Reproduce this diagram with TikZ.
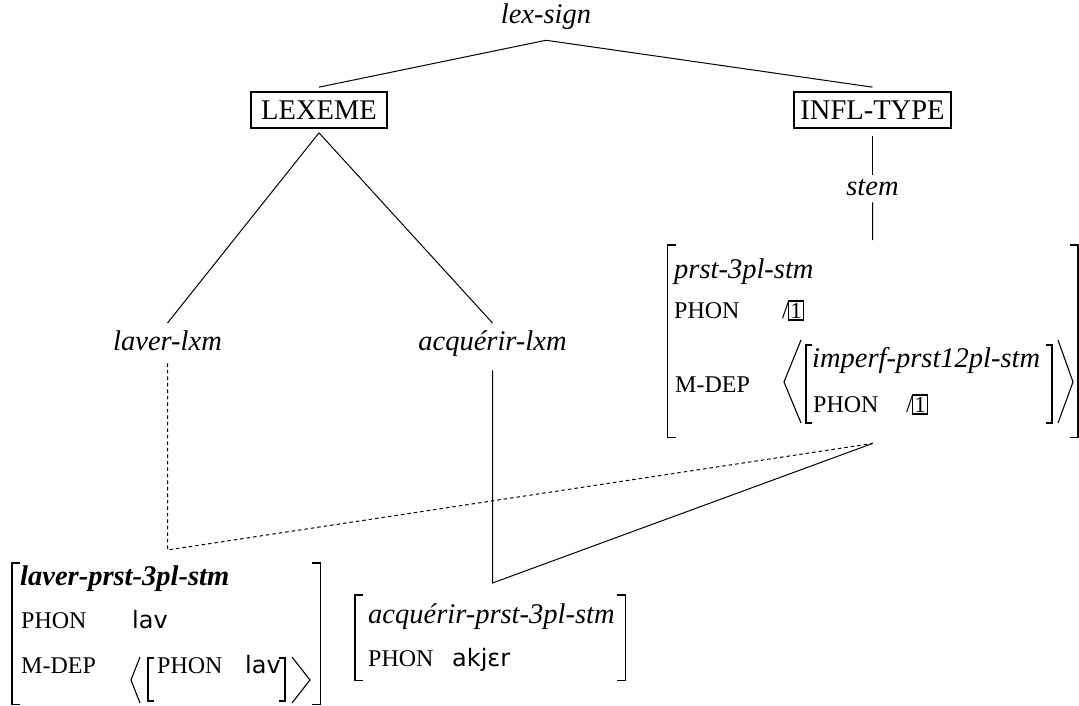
\documentclass[tikz,border=0pt]{standalone}
\usepackage{fontspec}
\setmainfont{Liberation Serif}
\newfontfamily\phonfont{DejaVu Sans}
\usetikzlibrary{calc}

% type sizes
\newcommand\mainsz{\fontsize{28.5}{34}\selectfont}
\newcommand\featsz{\fontsize{24}{28}\selectfont}
% structure-sharing tag
\newcommand\idxbox[1]{{\fontsize{23}{23}\selectfont\setlength\fboxsep{1pt}\setlength\fboxrule{1.6pt}\fbox{#1}}}
\newcommand\sharedval{{\fontsize{25}{25}\selectfont/}\kern-1.5pt\idxbox{1}}

\begin{document}
\begin{tikzpicture}[x=1pt,y=-1pt,
  txt/.style={inner sep=0pt, anchor=base, font=\mainsz},
  typ/.style={inner sep=0pt, anchor=base west, font=\mainsz\itshape},
  btyp/.style={inner sep=0pt, anchor=base west, font=\mainsz\bfseries\itshape},
  feat/.style={inner sep=0pt, anchor=base west, font=\featsz},
  ph/.style={inner sep=0pt, anchor=base west, font=\phonfont\featsz},
  sortbox/.style={draw, line width=1.7pt, inner sep=0pt, minimum height=36pt, font=\mainsz},
  frame/.style={inner sep=0pt, anchor=north west},
  conn/.style={line width=1pt},
  dconn/.style={line width=1pt, dash pattern=on 3.5pt off 3pt},
  brk/.style={line width=1.5pt},
  ang/.style={line width=1.1pt}]
\useasboundingbox (0,0) rectangle (1079,706);

% hierarchy nodes
\node[txt, font=\mainsz\itshape] (lexsign) at (546,24) {lex-sign};
\node[sortbox, minimum width=136pt] (lexeme) at (319,110) {LEXEME};
\node[sortbox, minimum width=157pt] (infl) at (872.5,110) {INFL-TYPE};
\node[txt, font=\mainsz\itshape] (laverlxm) at (167.5,350) {laver-lxm};
\node[txt, font=\mainsz\itshape] (acqlxm) at (492.5,350) {acquérir-lxm};
\node[txt, font=\mainsz\itshape] (stem) at (872.5,195) {stem};

% AVM frames
\node[frame, minimum width=410pt, minimum height=192pt] (avmR) at (667.5,245) {};
\node[frame, minimum width=308pt, minimum height=141pt] (avmL) at (12,563) {};
\node[frame, minimum width=270pt, minimum height=85pt] (avmM) at (355,595) {};

% outer brackets
\foreach \f in {avmR,avmL,avmM}{
  \draw[brk] ([xshift=8pt]\f.north west) -- (\f.north west) -- (\f.south west) -- ([xshift=8pt]\f.south west);
  \draw[brk] ([xshift=-8pt]\f.north east) -- (\f.north east) -- (\f.south east) -- ([xshift=-8pt]\f.south east);
}

% prst-3pl-stm
\node[typ] (rtype) at (674,278) {prst-3pl-stm};
\node[feat] (rphon) at (674,318) {PHON};
\node[feat, font=\mainsz] (rphonv) at (782,318) {\sharedval};
\node[feat] (rmdep) at (675,392) {M-DEP};
\draw[ang] (801,340) -- (784,382) -- (801,423);
\draw[brk] (812,345) -- (806,345) -- (806,423) -- (812,423);
\node[typ] (rinner) at (812,367) {imperf-prst12pl-stm};
\node[feat] (rinphon) at (813,412) {PHON};
\node[feat, font=\mainsz] (rinphonv) at (906,412) {\sharedval};
\draw[brk] (1046,345) -- (1052,345) -- (1052,423) -- (1046,423);
\draw[ang] (1058,340) -- (1073,382) -- (1058,423);

% laver-prst-3pl-stm
\node[btyp] (ltype) at (20,585) {laver-prst-3pl-stm};
\node[feat] (lphon) at (21,628) {PHON};
\node[ph] (lphonv) at (132,628) {lav};
\node[feat] (lmdep) at (21,673) {M-DEP};
\draw[ang] (140,657) -- (131,680) -- (140,703);
\draw[brk] (154,658) -- (148,658) -- (148,701) -- (154,701);
\node[feat] (linphon) at (157,673) {PHON};
\node[ph] (linphonv) at (245,673) {lav};
\draw[brk] (279,658) -- (285,658) -- (285,701) -- (279,701);
\draw[ang] (292,657) -- (310,680) -- (292,703);

% acquérir-prst-3pl-stm
\node[typ] (mtype) at (368,623) {acquérir-prst-3pl-stm};
\node[feat] (mphon) at (368,666) {PHON};
\node[ph] (mphonv) at (452,666) {akjɛr};

% connectors
\coordinate (apex) at ($(lexsign.south)+(0,-10pt)$);
\draw[conn] (apex) -- ([yshift=4pt]lexeme.north);
\draw[conn] (apex) -- ([yshift=4pt]infl.north);
\draw[conn] ([yshift=-4pt]lexeme.south) -- ([yshift=7pt]laverlxm.north);
\draw[conn] ([yshift=-4pt]lexeme.south) -- ([yshift=7pt]acqlxm.north);
\draw[conn] ([yshift=-7pt]infl.south) -- ([yshift=4pt]stem.north);
\draw[conn] ([yshift=-7pt]stem.south) -- ([yshift=5pt]avmR.north);

\coordinate (rfoot) at ($(avmR.south)+(0,-6pt)$);
\coordinate (lavfoot) at ($(laverlxm.south |- avmL.north)+(0,13pt)$);
\coordinate (acqfoot) at ($(acqlxm.south |- avmM.north)+(0,12pt)$);
\draw[dconn] ([yshift=-13pt]laverlxm.south) -- (lavfoot) -- (rfoot);
\draw[conn] ([yshift=-14pt]acqlxm.south) -- (acqfoot) -- (rfoot);
\end{tikzpicture}
\end{document}
